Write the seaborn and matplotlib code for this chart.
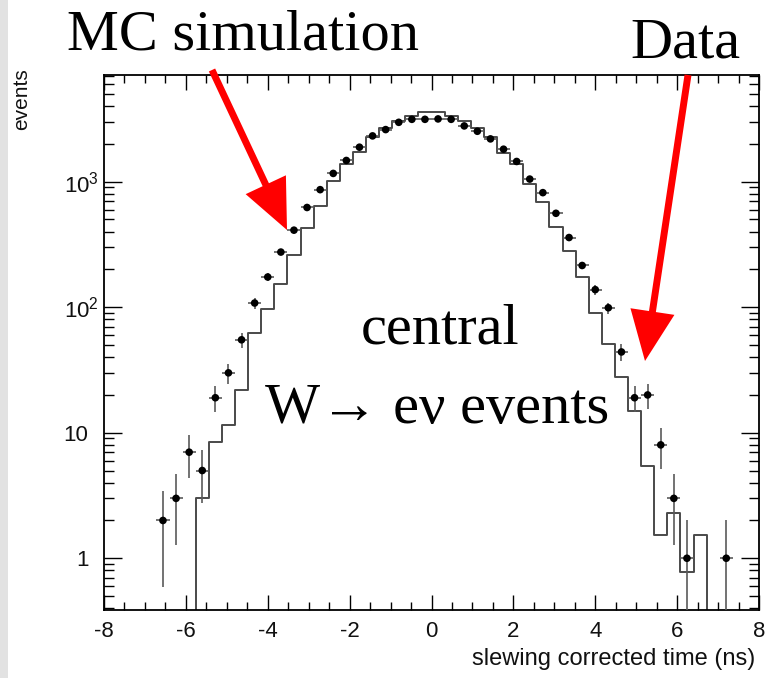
import numpy as np
import pandas as pd
import matplotlib
matplotlib.use("Agg")
import matplotlib.pyplot as plt
import matplotlib.transforms as mtransforms
from matplotlib.patches import Rectangle
from matplotlib.ticker import MultipleLocator, LogLocator, NullFormatter
import seaborn as sns

# ---------------- data (50 bins of 0.32 ns from -8 to 8) ----------------
bin_lo, bin_hi, n_bins = -8.0, 8.0, 50
data_counts = [0, 0, 0, 0, 2, 3, 7, 5, 19, 30, 55, 108, 174, 275, 411, 623,
               864, 1164, 1476, 1883, 2317, 2601, 2972, 3140, 3140, 3163, 3140,
               2782, 2522, 2193, 1815, 1449, 1049, 818, 560, 359, 215, 138, 99,
               44, 19, 20, 8, 3, 1, 0, 0, 1, 0, 0]
mc_counts = [0, 0, 0, 0, 0, 0, 0, 3, 8.4, 11.5, 22, 62, 96, 152, 262, 428,
             637, 1005, 1380, 1738, 2290, 2663, 3049, 3342, 3567, 3567, 3342,
             3049, 2663, 2290, 1706, 1380, 957, 690, 434, 280, 173, 90, 51, 28,
             15, 5.4, 1.53, 2.3, 0.77, 1.53, 0, 0, 0, 0]
xtick_vals = [-8, -6, -4, -2, 0, 2, 4, 6, 8]
xtick_labels = ["-8", "-6", "-4", "-2", "0", "2", "4", "6", "8"]
ytick_vals = [1, 10, 100, 1000]
ytick_labels = ["1", "10", r"$10^{2}$", r"$10^{3}$"]
x_label = "slewing corrected time (ns)"
y_label = "events"

edges = np.linspace(bin_lo, bin_hi, n_bins + 1)
centers = 0.5 * (edges[:-1] + edges[1:])
half_w = 0.5 * (edges[1] - edges[0])

mc_df = pd.DataFrame({"t": centers, "w": mc_counts})
d = pd.DataFrame({"t": centers, "n": data_counts})
d = d[d["n"] > 0]
d["err"] = np.sqrt(d["n"])

# ---------------- style ----------------
sns.set_theme(style="white")
plt.rcParams["font.family"] = ["Liberation Sans", "DejaVu Sans"]
plt.rcParams["mathtext.fontset"] = "custom"
plt.rcParams["mathtext.rm"] = "Liberation Sans"
plt.rcParams["mathtext.it"] = "Liberation Sans:italic"
plt.rcParams["axes.unicode_minus"] = False
for k in ["text.color", "axes.labelcolor", "xtick.color", "ytick.color",
          "xtick.labelcolor", "ytick.labelcolor"]:
    plt.rcParams[k] = "#111111"

W, H = 769, 678
fig = plt.figure(figsize=(W / 100, H / 100), dpi=100)
fig.patch.set_facecolor("white")
ax = fig.add_axes([104 / W, 1 - 610 / H, (759 - 104) / W, (610 - 75) / H])
ax.set_yscale("log")

# MC histogram (step)
sns.histplot(data=mc_df, x="t", weights="w", bins=n_bins,
             binrange=(bin_lo, bin_hi), element="step",
             fill=False, color="#4a4a4a", linewidth=1.4, ax=ax)

# data points with error bars
ax.errorbar(d["t"], d["n"], yerr=d["err"], xerr=half_w, fmt="none",
            ecolor="#5a5a5a", elinewidth=1.2, capsize=0, zorder=3)
sns.scatterplot(data=d, x="t", y="n", color="black", s=30, edgecolor="none",
                zorder=4, ax=ax, legend=False)

ax.set_xlim(bin_lo, bin_hi)
ax.set_ylim(0.387, 7080)

ax.set_xticks(xtick_vals)
ax.set_xticklabels(xtick_labels)
ax.xaxis.set_minor_locator(MultipleLocator(0.5))
ax.set_yticks(ytick_vals)
ax.set_yticklabels(ytick_labels)
ax.yaxis.set_minor_locator(LogLocator(base=10, subs=np.arange(2, 10)))
ax.yaxis.set_minor_formatter(NullFormatter())

ax.tick_params(which="both", direction="in", top=True, right=True,
               bottom=True, left=True, color="black", width=1.0)
ax.tick_params(axis="x", which="major", length=11, labelsize=16, pad=8)
ax.tick_params(axis="x", which="minor", length=5.5)
ax.tick_params(axis="y", which="major", length=13, labelsize=16, pad=4)
ax.tick_params(axis="y", which="minor", length=7)
for sp in ax.spines.values():
    sp.set_color("black")
    sp.set_linewidth(1.3)

ax.set_xlabel(x_label, fontsize=17, loc="right")
ax.xaxis.set_label_coords((755 - 104) / 655, (610 - 648) / 535)
ax.set_ylabel(y_label, fontsize=15, loc="top")
ax.yaxis.set_label_coords((31 - 104) / 655, (610 - 68) / 535)

# ROOT-like: plain labels sit further left than the 10^n labels
shift = mtransforms.ScaledTranslation(-10 / 100, 0, fig.dpi_scale_trans)
for lab, val in zip(ax.get_yticklabels(), ytick_vals):
    if val < 100:
        lab.set_transform(lab.get_transform() + shift)

# left grey scan strip
fig.patches.append(Rectangle((0, 0), 8 / W, 1, transform=fig.transFigure,
                             facecolor="#e2e2e2", edgecolor="none", zorder=0))

# ---------------- annotations ----------------
serif = ["Liberation Serif", "DejaVu Serif"]
fig.text(67 / W, 1 - 50 / H, "MC simulation", family=serif, fontsize=42,
         color="black", ha="left", va="baseline")
fig.text(630 / W, 1 - 57 / H, "Data", family=serif, fontsize=42,
         color="black", ha="left", va="baseline")
fig.text(440 / W, 1 - 343 / H, "central", family=serif, fontsize=42,
         color="black", ha="center", va="baseline")
fig.text(437 / W, 1 - 423 / H, "W\u2192 e\u03bd events", family=serif,
         fontsize=42, color="black", ha="center", va="baseline")

arrow_style = "simple,head_length=36,head_width=32,tail_width=5"
for tail, tip in [((212, 70), (287, 230)), ((688, 75), (645, 361))]:
    ax.annotate("", xy=(tip[0], H - tip[1]), xytext=(tail[0], H - tail[1]),
                xycoords="figure pixels", textcoords="figure pixels",
                arrowprops=dict(arrowstyle=arrow_style, color="#ff0000",
                                lw=0, shrinkA=0, shrinkB=0, mutation_scale=1),
                annotation_clip=False)

fig.savefig("out.png", dpi=100, facecolor="white")
